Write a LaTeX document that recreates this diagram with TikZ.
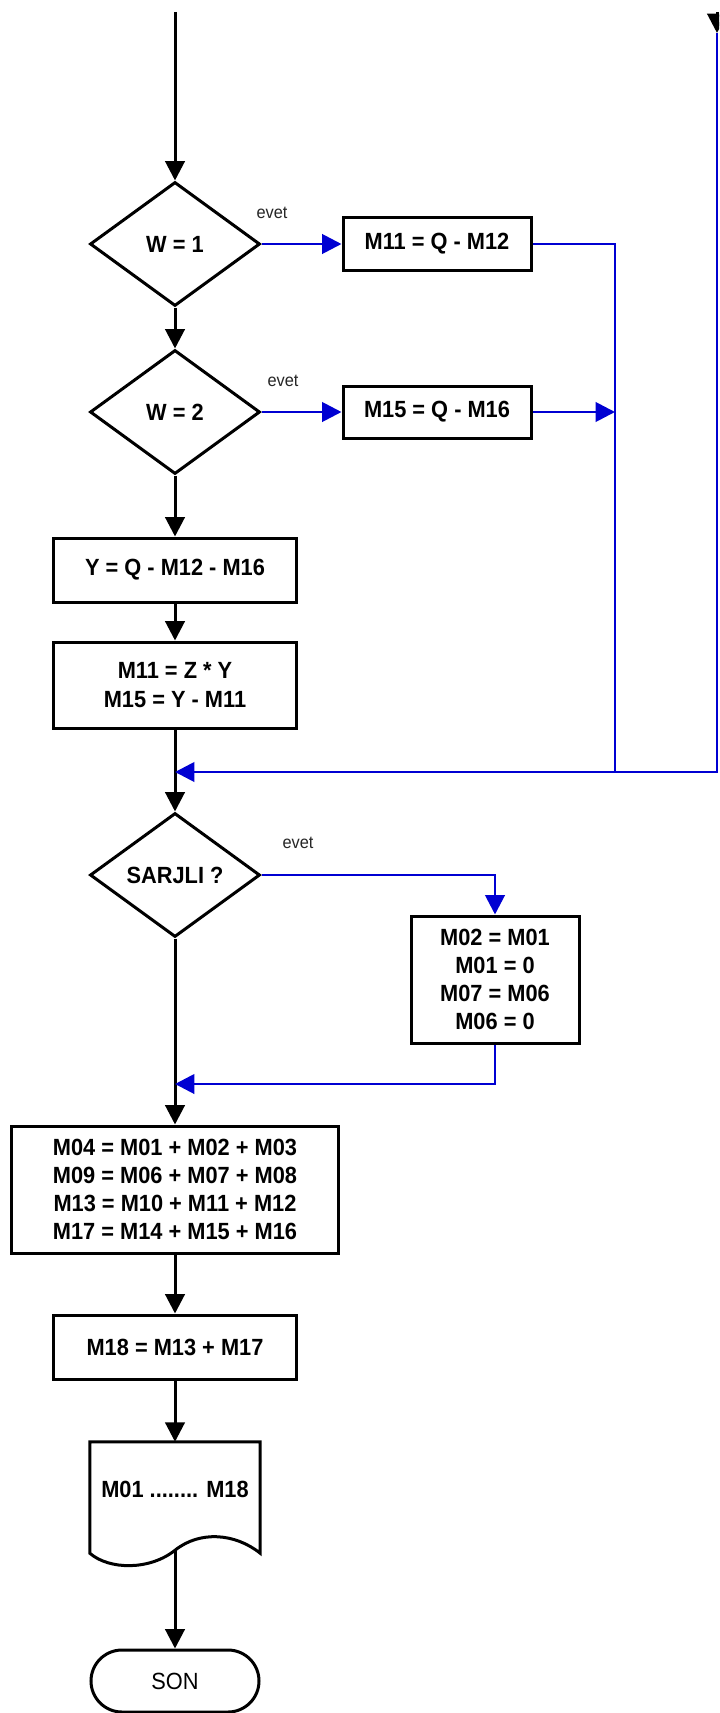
\documentclass[tikz,border=0pt]{standalone}
\usepackage{fontspec}
\setsansfont{Liberation Sans}[FakeStretch=0.93]
\usetikzlibrary{arrows.meta,calc,shapes.geometric,shapes.misc}
\definecolor{ink}{HTML}{000000}
\definecolor{yesc}{HTML}{0000D2}

\begin{document}
\begin{tikzpicture}[x=0.03cm, y=-0.03cm,
  font=\sffamily\bfseries\fontsize{20}{24}\selectfont,
  proc/.style={draw=ink, line width=0.09cm, minimum width=7.29cm,
    inner sep=0, align=center},
  decide/.style={diamond, draw=ink, line width=0.09cm, minimum width=5.1cm,
    minimum height=3.72cm, inner sep=0},
  flowarr/.style={draw=ink, line width=0.09cm,
    -{Triangle[length=0.58cm,width=0.58cm]}},
  yesarr/.style={draw=yesc, line width=0.085cm,
    -{Triangle[length=0.58cm,width=0.58cm]}},
  yesline/.style={draw=yesc, line width=0.085cm},
  evetlbl/.style={font=\sffamily\fontsize{15}{18}\selectfont, color=ink!85}]

\useasboundingbox (0,0) rectangle (719,1713);
\clip (0,0) rectangle (719,1713);

\def\ax{175}    % x of the main column
\def\jx{615}    % x of the blue collector
\def\fx{717}    % x of the feed line at the right edge
\def\my{772}    % y where the blue lines join the main column

% ---- main column
\coordinate (start) at (\ax,12);
\node[decide] (w1) at (\ax,244) {W = 1};
\node[decide] (w2) at (\ax,412) {W = 2};
\node[proc, minimum height=1.92cm] (yq) at (\ax,570) {Y = Q - M12 - M16};
\node[proc, minimum height=2.58cm] (mz) at (\ax,685)
  {M11 = Z * Y\\M15 = Y - M11};
\node[decide] (sarj) at (\ax,875) {SARJLI ?};
\node[proc, minimum width=9.78cm, minimum height=3.81cm] (sums)
  at (\ax,1189.5)
  {M04 = M01 + M02 + M03\\M09 = M06 + M07 + M08\\
   M13 = M10 + M11 + M12\\M17 = M14 + M15 + M16};
\node[proc, minimum height=1.92cm] (m18) at (\ax,1347) {M18 = M13 + M17};
\node[minimum width=5.1cm, minimum height=3.33cm, inner sep=0,
      text height=0.5cm, text depth=0.5cm] (doc) at (\ax,1497.5)
  {M01 ........ M18};
\node[rounded rectangle, draw=ink, line width=0.09cm, minimum width=5.04cm,
      minimum height=1.86cm, inner sep=0,
      font=\sffamily\mdseries\fontsize{20}{24}\selectfont]
  (son) at (\ax,1681) {SON};

% printout outline
\draw[ink, line width=0.09cm] (doc.north west) -- (doc.north east)
  -- (doc.south east)
  .. controls +(-25,-20) and +(25,-20) .. ($(doc.south)+(0,-3)$)
  coordinate (docout)
  .. controls +(-25,20) and +(20,17) .. (doc.south west) -- cycle;

% ---- side boxes
\node[proc, minimum width=5.64cm, minimum height=1.56cm] (q12) at (437,244)
  {M11 = Q - M12};
\node[proc, minimum width=5.64cm, minimum height=1.56cm] (q16) at (437,412)
  {M15 = Q - M16};
\node[proc, minimum width=5.04cm, minimum height=3.81cm] (chg) at (495,979.5)
  {M02 = M01\\M01 = 0\\M07 = M06\\M06 = 0};

\foreach \lx/\ly/\nm in {272/213/e1, 283/381/e2, 298/843/e3}
  \node[evetlbl] (\nm) at (\lx,\ly) {evet};

% ---- black flow
\draw[flowarr] (start) -- (w1.north);
\foreach \a/\b in {w1/w2, w2/yq, yq/mz, mz/sarj, sarj/sums, sums/m18, m18/doc}
  \draw[flowarr] (\a.south) -- (\b.north);
\draw[flowarr] (docout) -- (son.north);

% ---- blue branches
\coordinate (j1) at (\jx,\my);
\coordinate (j2) at (\jx,412);
\coordinate (m1) at (\ax,\my);
\coordinate (m2) at (\ax,1084);
\coordinate (feedtop) at (\fx,12);
\coordinate (feed) at (\fx,33);

\draw[yesarr] (w1.east) -- (q12.west);
\draw[yesarr] (w2.east) -- (q16.west);
\draw[yesline] (q12.east) -| (j1);
\draw[yesarr] (q16.east) -- (j2);
\draw[yesarr] (feed) |- (m1);
\draw[flowarr] (feedtop) -- (feed);
\draw[yesarr] (sarj.east) -| (chg.north);
\draw[yesarr] (chg.south) |- (m2);

\end{tikzpicture}
\end{document}
